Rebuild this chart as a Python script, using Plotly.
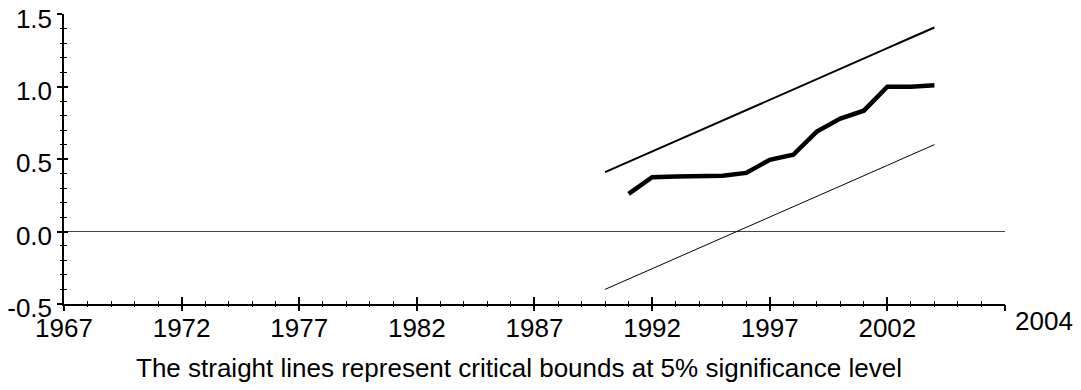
import plotly.graph_objects as go

# ---- data ----
bound_years = list(range(1990, 2005))
upper_bound = [0.41, 0.481, 0.553, 0.624, 0.696, 0.767, 0.839, 0.91, 0.981, 1.053, 1.124, 1.196, 1.267, 1.339, 1.41]
lower_bound = [-0.40, -0.329, -0.257, -0.186, -0.114, -0.043, 0.029, 0.10, 0.171, 0.243, 0.314, 0.386, 0.457, 0.529, 0.60]
cusumsq_years = list(range(1991, 2005))
cusumsq = [0.26, 0.375, 0.38, 0.38, 0.385, 0.405, 0.495, 0.53, 0.69, 0.78, 0.835, 1.0, 1.0, 1.01]

x_tickvals = [1967, 1972, 1977, 1982, 1987, 1992, 1997, 2002, 2007]
x_ticktext = ["1967", "1972", "1977", "1982", "1987", "1992", "1997", "2002", ""]
end_label = "2004"
y_tickvals = [-0.5, 0.0, 0.5, 1.0, 1.5]
y_ticktext = ["-0.5", "0.0", "0.5", "1.0", "1.5"]
caption = "The straight lines represent critical bounds at 5% significance level"

FONT = "Liberation Sans, Arial, sans-serif"
XR = [1967, 2007.001]
YR = [-0.501, 1.503]

fig = go.Figure()
fig.add_trace(go.Scatter(x=bound_years, y=upper_bound, mode="lines",
                         line=dict(color="black", width=2), hoverinfo="skip"))
fig.add_trace(go.Scatter(x=cusumsq_years, y=cusumsq, mode="lines",
                         line=dict(color="black", width=4.5), hoverinfo="skip"))
fig.add_trace(go.Scatter(x=bound_years, y=lower_bound, mode="lines", xaxis="x2", yaxis="y2",
                         line=dict(color="black", width=1), hoverinfo="skip"))

axfont = dict(family=FONT, size=26, color="black")
fig.update_layout(
    template="none",
    width=1081, height=390,
    margin=dict(l=64, r=76, t=14, b=86),
    paper_bgcolor="white", plot_bgcolor="white",
    showlegend=False,
    font=dict(family=FONT, color="black"),
    xaxis=dict(range=XR, showgrid=False, zeroline=False, automargin=False,
               showline=True, linecolor="black", linewidth=1.5,
               tickmode="array", tickvals=x_tickvals, ticktext=x_ticktext,
               ticks="inside", ticklen=7, tickwidth=1.5, tickcolor="black",
               tickfont=axfont, ticklabeloverflow="allow",
               minor=dict(dtick=1, tick0=1967, ticks="inside", ticklen=3, tickwidth=1, tickcolor="black", showgrid=False)),
    yaxis=dict(range=YR, showgrid=False, automargin=False,
               zeroline=True, zerolinecolor="#444", zerolinewidth=1,
               showline=True, linecolor="black", linewidth=1.5,
               tickmode="array", tickvals=y_tickvals, ticktext=y_ticktext,
               ticks="outside", ticklen=5, tickwidth=1.5, tickcolor="black",
               tickfont=axfont, ticklabelshift=4, ticklabeloverflow="allow",
               minor=dict(dtick=0.1, tick0=0, ticks="outside", ticklen=2, tickwidth=1, tickcolor="black", showgrid=False)),
    xaxis2=dict(range=XR, overlaying="x", anchor="y2", side="bottom", showgrid=False, zeroline=False,
                automargin=False,
                showline=False, tickmode="array", tickvals=x_tickvals, showticklabels=False,
                ticks="outside", ticklen=6, tickwidth=1.5, tickcolor="black",
                minor=dict(dtick=1, tick0=1967, ticks="outside", ticklen=2, tickwidth=1, tickcolor="black", showgrid=False)),
    yaxis2=dict(range=YR, overlaying="y", anchor="x2", side="left", showgrid=False, zeroline=False,
                automargin=False,
                showline=False, tickmode="array", tickvals=y_tickvals, showticklabels=False,
                ticks="inside", ticklen=4, tickwidth=1.5, tickcolor="black",
                minor=dict(dtick=0.1, tick0=0, ticks="inside", ticklen=3, tickwidth=1, tickcolor="black", showgrid=False)),
    annotations=[
        dict(text=end_label, x=1.0414, xref="paper", y=-0.058, yref="paper",
             xanchor="center", yanchor="middle", showarrow=False, font=axfont),
        dict(text=caption, x=0.4835, xref="paper", y=-0.22, yref="paper",
             xanchor="center", yanchor="middle", showarrow=False,
             font=dict(family=FONT, size=26, color="black")),
    ],
)

fig.write_html("out.html")
